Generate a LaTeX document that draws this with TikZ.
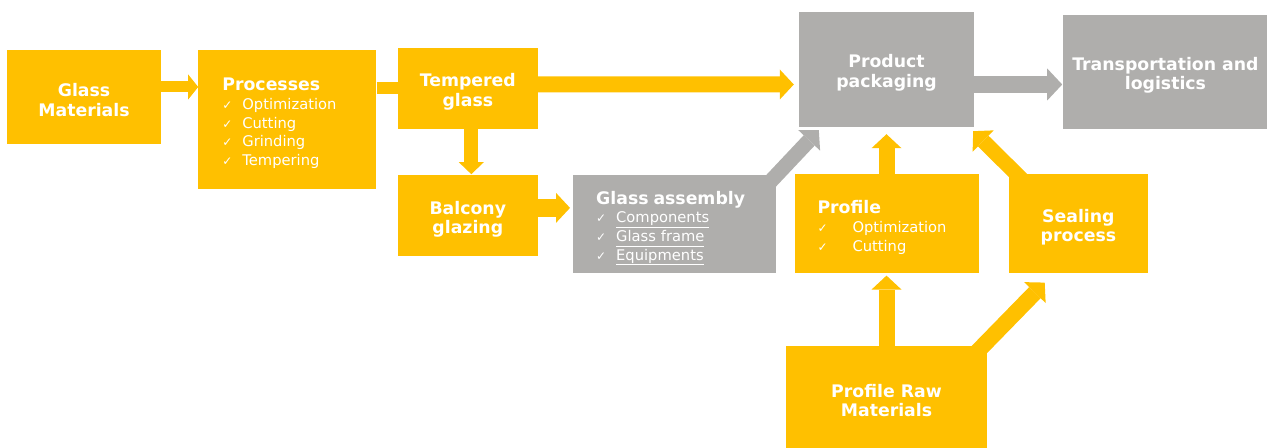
\documentclass[tikz,border=0pt]{standalone}
\usepackage{fontspec}
\setmainfont{DejaVu Sans}
\usetikzlibrary{positioning,arrows.meta}

\definecolor{amber}{RGB}{255,192,0}
\definecolor{stone}{RGB}{175,174,172}

\newcommand{\ltitle}[1]{{\bfseries\fontsize{17.3bp}{18.7bp}\selectfont #1}}
\newcommand{\tick}{\makebox[20bp][l]{\fontsize{12bp}{12bp}\selectfont ✓}}
\newcommand{\wtick}{\makebox[35bp][l]{\fontsize{12bp}{12bp}\selectfont ✓}}
\newcommand{\uitem}[1]{\underline{#1\vphantom{p}}}

\tikzset{
  cell/.style={text=white, inner sep=0pt, align=center,
    font=\bfseries\fontsize{17.3bp}{19.5bp}\selectfont},
  ybox/.style={cell, fill=amber, execute at begin node={\rule{0pt}{39bp}}},
  gbox/.style={cell, fill=stone, execute at begin node={\rule{0pt}{39bp}}},
  listbox/.style={cell, align=left, inner xsep=23bp,
    font=\fontsize{14.7bp}{18.7bp}\selectfont,
    execute at begin node={\rule{0pt}{20.5bp}}},
  ylist/.style={listbox, fill=amber},
  glist/.style={listbox, fill=stone},
  flow/.style={color=amber, line width=15bp, ->},
  gflow/.style={flow, color=stone},
  link/.style={draw=amber, line width=12bp}
}

\begin{document}
\begin{tikzpicture}[
                    x=1bp, y=-1bp,
                    >={Triangle[width=30bp,length=14bp,line width=0pt]}
                    ]
    \useasboundingbox (0,0) rectangle (1267,448);

    % boxes
    \node[ybox, minimum width=154bp, minimum height=94bp] (glass) at (84,97) {Glass\\Materials};
    \node[ylist, inner xsep=24bp, text width=130bp, minimum height=139bp,
          right=37bp of glass.north east, anchor=north west] (proc)
          {\ltitle{Processes}\\ \tick Optimization\\ \tick Cutting\\ \tick Grinding\\ \tick Tempering};
    \node[ybox, minimum width=140bp, minimum height=81bp,
          right=21bp of proc.north east, anchor=north west, yshift=2bp] (temp) {Tempered\\glass};
    \node[ybox, minimum width=140bp, minimum height=81bp, below=46bp of temp] (balc) {Balcony\\glazing};
    \node[glist, text width=157bp, minimum height=98bp,
          right=35bp of balc.north east, anchor=north west] (assem)
          {\ltitle{Glass assembly}\\ \tick\uitem{Components}\\ \tick\uitem{Glass frame}\\ \tick\uitem{Equipments}};
    \node[gbox, minimum width=175bp, minimum height=115bp] (pack) at (886.5,69.5) {Product\\packaging};
    \node[gbox, minimum width=204bp, minimum height=114bp,
          right=89bp of pack.north east, anchor=north west, yshift=-3bp] (trans) {Transportation and\\logistics};
    \node[ylist, text width=138bp, minimum height=99bp, below=47bp of pack] (prof)
          {\ltitle{Profile}\\ \wtick Optimization\\ \wtick Cutting};
    \node[ybox, minimum width=139bp, minimum height=99bp,
          right=30bp of prof.north east, anchor=north west] (seal) {Sealing\\process};
    \node[ybox, minimum width=201bp, minimum height=103bp, below=72bp of prof] (raw) {Profile Raw\\Materials};

    % flows
    \draw[flow, line width=11bp, -{Triangle[width=25bp,length=10bp,line width=0pt]}]
          ([yshift=10bp]glass.east) -- ([yshift=32.5bp]proc.west);
    \draw[link] (temp.west -| proc.east) -- (temp.west);
    \draw[flow, line width=16bp, shorten >=5bp] ([yshift=4bp]temp.east) -- ([yshift=-15bp]pack.west);
    \draw[flow, line width=14bp, -{Triangle[width=25bp,length=12bp,line width=0pt]}, shorten >=1bp]
          ([xshift=3.5bp]temp.south) -- ([xshift=3.5bp]balc.north);
    \draw[flow, line width=18bp, shorten >=3bp] ([yshift=8bp]balc.east) -- ([yshift=16.5bp]assem.west);
    \draw[gflow, shorten <=-12bp] (assem.north east) -- ([shift={(20,3)}]pack.south west);
    \draw[gflow, line width=17bp, -{Triangle[width=32bp,length=15bp,line width=0pt]}, shorten >=1bp]
          ([yshift=-15bp]pack.east) -- ([yshift=-12.5bp]trans.west);
    \draw[flow, line width=16bp, shorten >=7bp] (prof.north) -- (pack.south);
    \draw[flow, shorten <=-10bp] ([xshift=8bp]seal.north west) -- ([shift={(-1,4)}]pack.south east);
    \draw[flow, line width=16bp, shorten >=2bp] (raw.north) -- (prof.south);
    \draw[flow, line width=16bp, shorten <=-10bp] ([xshift=-4bp]raw.north east) -- ([shift={(36,9)}]seal.south west);
\end{tikzpicture}
\end{document}
